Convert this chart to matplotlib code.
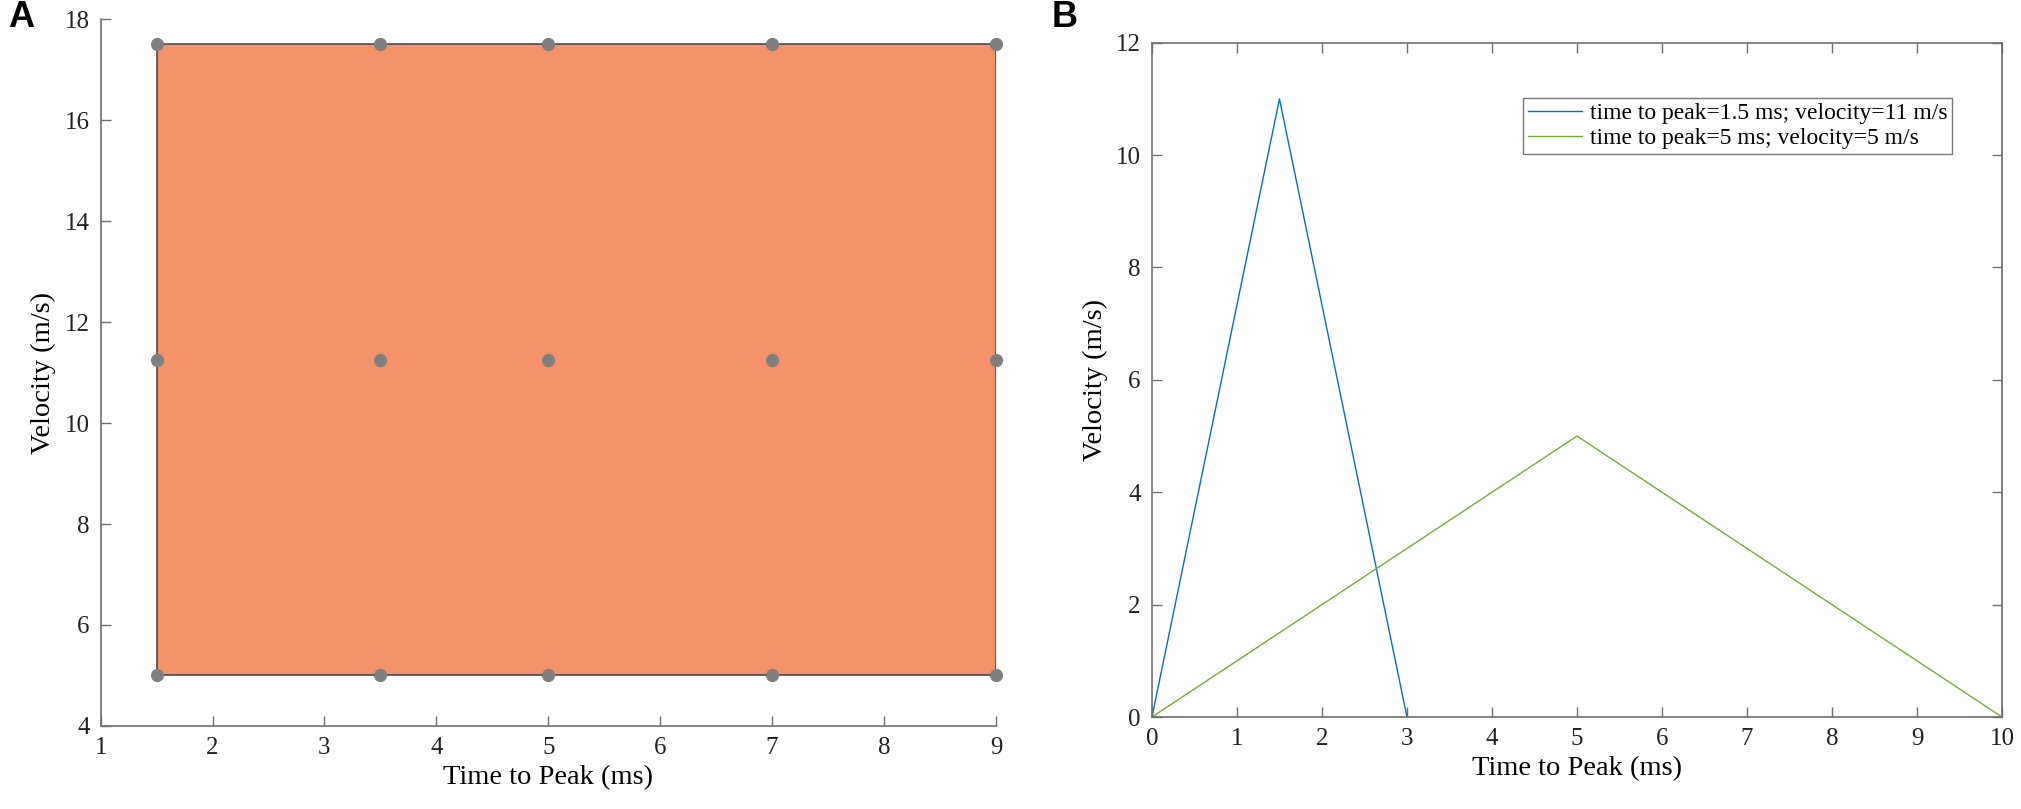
import numpy as np
import matplotlib
matplotlib.use("Agg")
import matplotlib.pyplot as plt
from matplotlib.patches import Rectangle

plt.rcParams['font.family'] = ['Liberation Serif', 'DejaVu Serif']

# ---- data ----
# panel A: grid of (time to peak, velocity) combos and the covered region
tp_vals = [1.5, 3.5, 5, 7, 9]
vel_vals = [5, 11.25, 17.5]
# panel B: two example triangular velocity profiles
fast_t = [0, 1.5, 3]
fast_v = [0, 11, 0]
slow_t = [0, 5, 10]
slow_v = [0, 5, 0]
fast_label = "time to peak=1.5 ms; velocity=11 m/s"
slow_label = "time to peak=5 ms; velocity=5 m/s"

ORANGE = "#F4926A"
GREY_PT = "#7F7F7F"
AXC = "#6E6E6E"
BLUE = "#0072BD"
GREEN = "#77AC30"
FS = 18
LFS = 20.5

fig = plt.figure(figsize=(20.21, 8.09), dpi=100)
axA = fig.add_axes([0.0498, 0.1026, 0.4430, 0.8739])
axB = fig.add_axes([0.5700, 0.1137, 0.4206, 0.8335])

def style(ax, box):
    for s in ax.spines.values():
        s.set_color(AXC); s.set_linewidth(1.2)
    if not box:
        ax.spines['top'].set_visible(False)
        ax.spines['right'].set_visible(False)
    ax.tick_params(direction='in', length=7, width=1, color=AXC,
                   labelsize=FS, labelcolor="#222222",
                   top=box, right=box, pad=8)

# ---- A ----
x0, x1 = min(tp_vals), max(tp_vals)
y0, y1 = min(vel_vals), max(vel_vals)
axA.add_patch(Rectangle((x0, y0), x1 - x0, y1 - y0, facecolor=ORANGE,
                        edgecolor="#4A4A4A", lw=1.2, zorder=1))
X, Y = np.meshgrid(tp_vals, vel_vals)
axA.plot(X.ravel(), Y.ravel(), 'o', color=GREY_PT, ms=9.5, mew=0, zorder=3,
         clip_on=False)
axA.set_xlim(1, 9); axA.set_ylim(4, 18)
axA.set_xticks(range(1, 10)); axA.set_yticks(range(4, 19, 2))
axA.set_xlabel("Time to Peak (ms)", fontsize=LFS, labelpad=4)
axA.set_ylabel("Velocity (m/s)", fontsize=LFS, labelpad=6)
style(axA, box=False)

# ---- B ----
axB.plot(fast_t, fast_v, color=BLUE, lw=1.0, label=fast_label)
axB.plot(slow_t, slow_v, color=GREEN, lw=1.0, label=slow_label)
axB.set_xlim(0, 10); axB.set_ylim(0, 12)
axB.set_xticks(range(0, 11)); axB.set_yticks(range(0, 13, 2))
axB.set_xlabel("Time to Peak (ms)", fontsize=LFS, labelpad=4)
axB.set_ylabel("Velocity (m/s)", fontsize=LFS, labelpad=6)
style(axB, box=True)
leg = axB.legend(loc='upper right', bbox_to_anchor=(0.941, 0.918), fontsize=17,
                 frameon=True, fancybox=False, edgecolor="#555555",
                 borderpad=0.2, handlelength=2.3, handletextpad=0.3,
                 labelspacing=0.15, borderaxespad=0)
leg.get_frame().set_linewidth(1.0)

fig.text(0.004, 0.978, "A", fontsize=26, fontweight='bold',
         family=['Liberation Sans', 'DejaVu Sans'], va='center')
fig.text(0.5205, 0.978, "B", fontsize=26, fontweight='bold',
         family=['Liberation Sans', 'DejaVu Sans'], va='center')

fig.savefig("out.png", dpi=100)
